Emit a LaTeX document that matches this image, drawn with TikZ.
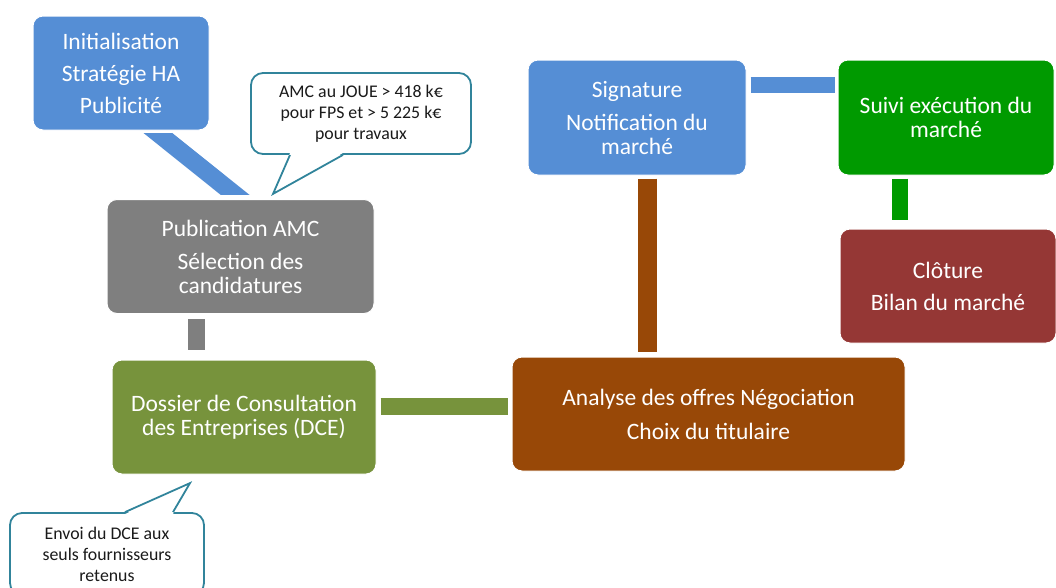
\documentclass[tikz,border=0pt]{standalone}
\usepackage{fontspec}
\setmainfont{Carlito}
\usetikzlibrary{positioning}

\definecolor{bleuHA}{HTML}{558ED5}
\definecolor{grisAMC}{HTML}{7F7F7F}
\definecolor{vertDCE}{HTML}{77933C}
\definecolor{brunAO}{HTML}{984807}
\definecolor{vertSuivi}{HTML}{009A00}
\definecolor{rougeClo}{HTML}{953735}
\definecolor{bordBulle}{HTML}{31849B}
\definecolor{texteBulle}{HTML}{1A1A1A}

\begin{document}
\begin{tikzpicture}[x=1pt,y=-1pt,
                    etape/.style={rounded corners=10pt,draw=white,line width=1pt,text=white,align=center,
                                  inner sep=0pt,minimum height=114pt,font=\fontsize{23.5}{24}\selectfont},
                    bulle/.style={rounded corners=12pt,draw=bordBulle,line width=1.8pt,fill=white,
                                  text=texteBulle,align=center,inner sep=0pt,font=\fontsize{17.8}{21}\selectfont},
                    lien/.style={draw=#1,line width=17pt}]

  \useasboundingbox (0,0) rectangle (1056,587);
  \clip (0,0) rectangle (1056,587);

  % etapes
  \node[etape,fill=bleuHA,minimum width=176pt]    (init)   at (121,73)    {Initialisation\\[8pt]Stratégie HA\\[8pt]Publicité};
  \node[etape,fill=grisAMC,minimum width=267pt]   (pub)    at (240.5,256.5) {Publication AMC\\[9pt]Sélection des\\candidatures};
  \node[etape,fill=vertDCE,minimum width=264pt]   (dce)    at (244,417)   {Dossier de Consultation\\des Entreprises (DCE)};
  \node[etape,fill=brunAO,minimum width=393pt]    (ana)    at (708.5,414) {Analyse des offres Négociation\\[10pt]Choix du titulaire};
  \node[etape,fill=bleuHA,minimum width=218pt,minimum height=115pt] (sig) at (637,117.5) {Signature\\[9pt]Notification du\\marché};
  \node[etape,fill=vertSuivi,minimum width=216pt,minimum height=115pt] (suivi) at (946,117.5) {Suivi exécution du\\marché};
  \node[etape,fill=rougeClo,minimum width=216pt]  (clo)    at (948,286)   {Clôture\\[8pt]Bilan du marché};

  % bulles
  \node[bulle,minimum width=220pt,minimum height=81pt] (amc) at (361,113.5)
       {AMC au JOUE > 418 k€\\pour FPS et > 5 225 k€\\pour travaux};
  \coordinate (amcpointe) at ([xshift=-88pt,yshift=-39pt]amc.south);
  \fill[white] ([xshift=-71pt,yshift=2pt]amc.south) -- (amcpointe) -- ([xshift=-18pt,yshift=2pt]amc.south) -- cycle;
  \draw[bordBulle,line width=1.8pt] ([xshift=-71pt]amc.south) -- (amcpointe) -- ([xshift=-18pt]amc.south);

  \node[bulle,minimum width=194pt,minimum height=82pt] (envoi) at (107,554)
       {Envoi du DCE aux\\seuls fournisseurs\\retenus};
  \coordinate (envoipointe) at ([xshift=83pt,yshift=29pt]envoi.north);
  \fill[white] ([xshift=18pt,yshift=-2pt]envoi.north) -- (envoipointe) -- ([xshift=66pt,yshift=-2pt]envoi.north) -- cycle;
  \draw[bordBulle,line width=1.8pt] ([xshift=18pt]envoi.north) -- (envoipointe) -- ([xshift=66pt]envoi.north);

  % liens
  \begin{scope}
    \clip ([yshift=-3pt]init.south west) rectangle ([yshift=5pt]pub.north east);
    \draw[lien=bleuHA,line width=18pt] ([xshift=25pt,yshift=7pt]init.south) -- ([xshift=6pt,yshift=-5pt]pub.north);
  \end{scope}
  \draw[lien=grisAMC,shorten <=5pt,shorten >=10pt] ([xshift=-44pt]pub.south) -- ([xshift=-44pt]pub.south |- dce.north);
  \draw[lien=vertDCE,shorten <=4pt,shorten >=4pt] ([yshift=10.5pt]dce.east) -- ([yshift=10.5pt]dce.east -| ana.west);
  \draw[lien=brunAO,line width=19pt,shorten <=3pt,shorten >=5pt] ([xshift=10.5pt]sig.south) -- ([xshift=10.5pt]sig.south |- ana.north);
  \draw[lien=bleuHA,line width=16pt,shorten <=4pt,shorten >=3pt] ([yshift=32.5pt]sig.east) -- ([yshift=32.5pt]sig.east -| suivi.west);
  \draw[lien=vertSuivi,line width=16pt,shorten <=3pt,shorten >=9pt] ([xshift=-46pt]suivi.south) -- ([xshift=-46pt]suivi.south |- clo.north);
\end{tikzpicture}
\end{document}
